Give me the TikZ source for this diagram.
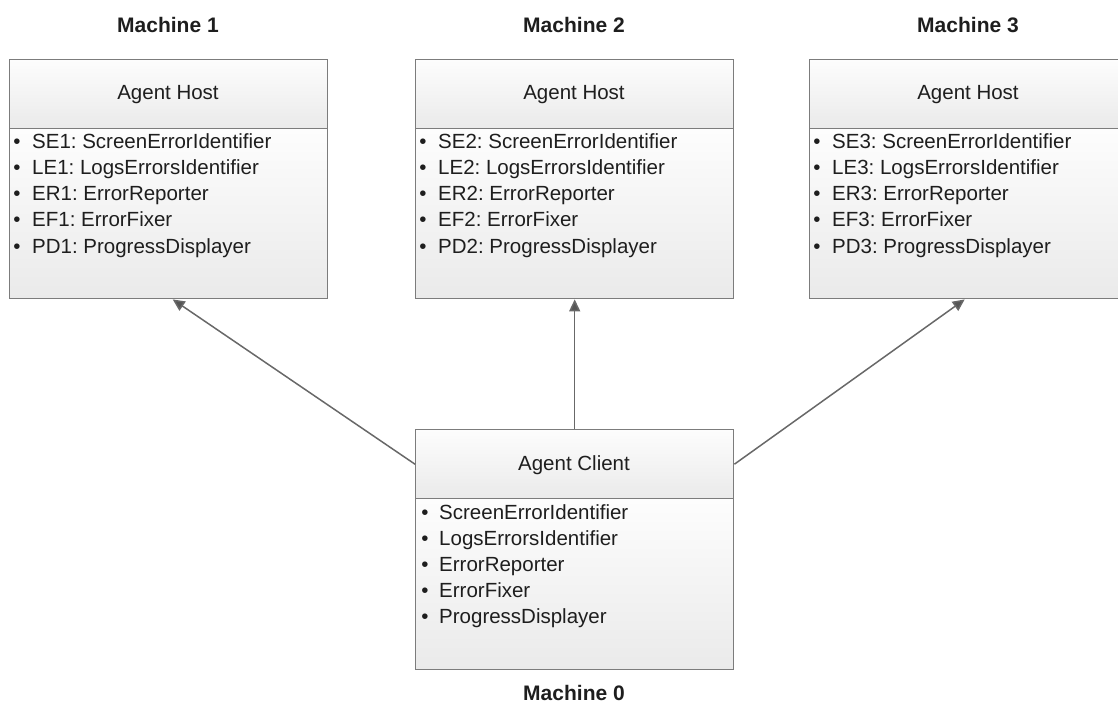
\documentclass[tikz,border=0pt]{standalone}
\usepackage{fontspec}
\setmainfont{Liberation Sans}
\usetikzlibrary{arrows.meta}
\definecolor{boxline}{HTML}{7C7C7C}
\definecolor{wire}{HTML}{686868}
\definecolor{tipfill}{HTML}{555555}
\definecolor{shadetop}{HTML}{FDFDFD}
\definecolor{shadebot}{HTML}{EAEAEA}
\definecolor{ink}{HTML}{1E1E1E}
\frenchspacing

\begin{document}
\begin{tikzpicture}[x=1pt,y=-1pt,
  part/.style={rectangle, draw=boxline, line width=1.4pt, top color=shadetop,
    bottom color=shadebot, minimum width=318pt, inner sep=0pt, anchor=north west},
  hdr/.style={part, minimum height=69pt},
  bdy/.style={part, minimum height=170pt},
  txt/.style={font=\fontsize{20.5}{24}\selectfont, text=ink, inner sep=0pt},
  title/.style={txt, anchor=base},
  item/.style={txt, anchor=base west},
  dot/.style={txt, anchor=base},
  machine/.style={font=\fontsize{21}{25}\selectfont\bfseries, text=ink, anchor=base, inner sep=0pt},
  link/.style={draw=wire, line width=1.5pt, -{Triangle[length=12pt,width=11pt,fill=tipfill]}}
]
\clip (0,0) rectangle (1118,704);

% three host machines
\foreach \i/\x in {1/9, 2/415, 3/809} {
  \node[hdr] (h\i) at (\x,59) {};
  \node[bdy] (b\i) at (\x,128) {};
  \node[title] (t\i) at (\x+159,99) {Agent Host};
  \node[machine] (m\i) at (\x+159,32) {Machine \i};
  \foreach \j/\ab/\nm in {0/SE/ScreenErrorIdentifier, 1/LE/LogsErrorsIdentifier,
      2/ER/ErrorReporter, 3/EF/ErrorFixer, 4/PD/ProgressDisplayer} {
    \node[dot] (d\i-\j) at (\x+8,148+26.3*\j) {\textbullet};
    \node[item] (e\i-\j) at (\x+23,148+26.3*\j) {\ab\i: \nm};
  }
}

% client machine
\node[hdr] (ch) at (415,429) {};
\node[bdy, minimum height=171pt] (cb) at (415,498) {};
\node[title] (ct) at (574,470.5) {Agent Client};
\node[machine] (m0) at (574,700) {Machine 0};
\foreach \j/\nm in {0/ScreenErrorIdentifier, 1/LogsErrorsIdentifier,
    2/ErrorReporter, 3/ErrorFixer, 4/ProgressDisplayer} {
  \node[dot] (cd-\j) at (425,519+26.1*\j) {\textbullet};
  \node[item] (ce-\j) at (439,519+26.1*\j) {\nm};
}

% connections from client to hosts
\draw[link] (ch.west) -- ([xshift=4pt]b1.south);
\draw[link] (ch.north) -- (b2.south);
\draw[link] (ch.east) -- ([xshift=-4pt]b3.south);
\end{tikzpicture}
\end{document}
